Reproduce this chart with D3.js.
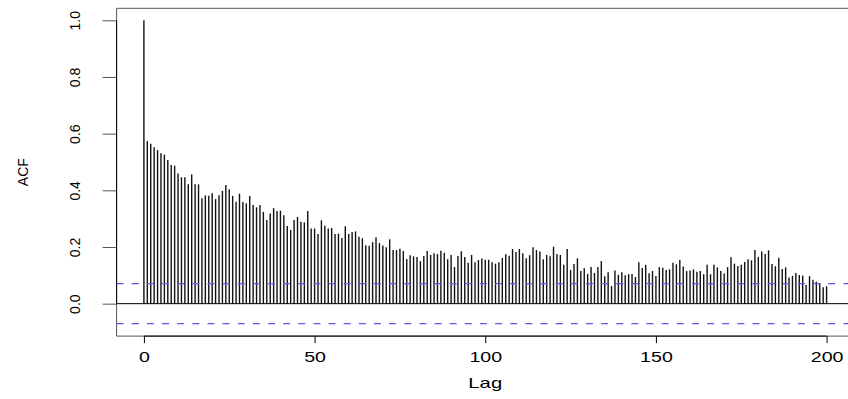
<!DOCTYPE html>
<html lang="en">
<head>
<meta charset="utf-8" />
<title>ACF</title>
<style>
  body { margin: 0; background: #fff; }
  text { font-family: "Liberation Sans", Arial, sans-serif; fill: #000; }
  .bar { stroke: #111; stroke-width: 1.4px; }
  .ci { stroke: #5a5af0; stroke-width: 1.2px; stroke-dasharray: 7, 8.14; fill: none; }
</style>
<script src="https://cdn.jsdelivr.net/npm/d3@7"></script>
</head>
<body>
<div id="acfplot"></div>
<script>
// lags and autocorrelation values
var lags = d3.range(0, 201);
var acf = [1.0,
  0.574,0.564,0.552,0.542,0.531,0.526,0.507,0.489,0.487,0.459,0.446,0.446,0.421,0.456,0.421,0.421,0.372,0.382,0.381,0.390,0.369,0.383,0.398,0.419,0.404,0.380,0.360,0.388,0.359,0.354,0.380,0.348,0.340,
  0.348,0.324,0.295,0.318,0.337,0.327,0.328,0.312,0.274,0.260,0.295,0.306,0.289,0.287,0.327,0.265,0.265,0.246,0.294,0.275,0.265,0.267,0.246,0.247,0.232,0.273,0.246,0.253,0.255,0.236,0.231,0.206,0.204,
  0.217,0.234,0.214,0.205,0.199,0.227,0.189,0.189,0.194,0.186,0.158,0.171,0.167,0.165,0.150,0.168,0.186,0.172,0.178,0.175,0.187,0.180,0.157,0.172,0.129,0.168,0.185,0.165,0.144,0.172,0.146,0.154,0.159,
  0.155,0.155,0.146,0.141,0.146,0.161,0.174,0.169,0.193,0.182,0.193,0.178,0.160,0.171,0.199,0.189,0.184,0.157,0.172,0.167,0.201,0.175,0.172,0.137,0.193,0.119,0.140,0.160,0.115,0.125,0.105,0.129,
  0.108,0.129,0.150,0.097,0.111,0.062,0.117,0.102,0.111,0.100,0.104,0.105,0.094,0.146,0.126,0.137,0.107,0.115,0.098,0.129,0.127,0.119,0.121,0.144,0.139,0.154,0.131,0.115,0.117,0.121,0.113,0.115,0.104,
  0.137,0.104,0.137,0.128,0.115,0.106,0.129,0.164,0.141,0.133,0.137,0.147,0.157,0.153,0.189,0.165,0.184,0.175,0.188,0.140,0.132,0.162,0.122,0.128,0.092,0.098,0.108,0.101,0.099,0.066,0.097,0.084,0.078,0.073,0.058,0.061];
var ciLimits = [0.0706, -0.0706];
var xTicks = [0, 50, 100, 150, 200];
var yTicks = [0.0, 0.2, 0.4, 0.6, 0.8, 1.0];

var width = 848, height = 399;

// set the ranges (R pads the data range by 4%)
var x = d3.scaleLinear().domain([-8, 208]).range([116.6, 853.9]);
var y = d3.scaleLinear().domain([-0.1145, 1.0424]).range([336.1, 8.3]);

var svg = d3.select("#acfplot").append("svg")
    .attr("width", width)
    .attr("height", height);

// plot box (right side runs off the picture)
var x0 = x.range()[0], x1 = x.range()[1], yTop = y.range()[1], yBot = y.range()[0];
svg.append("path")
    .attr("d", "M" + x1 + "," + yTop + "H" + x0 + "V" + yBot + "H" + x1)
    .attr("fill", "none").attr("stroke", "#555").attr("stroke-width", 1);

// the bars
svg.selectAll(".bar").data(lags).enter().append("line")
    .attr("class", "bar")
    .attr("x1", function(d) { return x(d); })
    .attr("x2", function(d) { return x(d); })
    .attr("y1", y(0))
    .attr("y2", function(d) { return y(acf[d]); });

// zero line
svg.append("line")
    .attr("x1", x0).attr("x2", x1).attr("y1", y(0)).attr("y2", y(0))
    .attr("stroke", "#000").attr("stroke-width", 1);

// confidence limits
svg.selectAll(".ci").data(ciLimits).enter().append("line")
    .attr("class", "ci")
    .attr("x1", x0).attr("x2", x1)
    .attr("y1", function(d) { return y(d); })
    .attr("y2", function(d) { return y(d); });

// x axis
var xAxis = svg.append("g")
    .attr("transform", "translate(0," + yBot + ")")
    .call(d3.axisBottom(x).tickValues(xTicks).tickSize(7).tickFormat(d3.format("d")));
xAxis.select(".domain").attr("d", "M" + x(0) + ",0H" + x(200)).attr("stroke", "#000");
xAxis.selectAll(".tick line").attr("stroke", "#000");
xAxis.selectAll(".tick text").attr("y", 0).attr("dy", 0)
    .attr("font-size", 14).attr("text-anchor", "middle")
    .attr("transform", "translate(0,26) scale(1.4,1)");

// y axis
var yAxis = svg.append("g")
    .attr("transform", "translate(" + x0 + ",0)")
    .call(d3.axisLeft(y).tickValues(yTicks).tickSize(14).tickFormat(d3.format(".1f")));
yAxis.select(".domain").attr("d", "M0," + y(0) + "V" + y(1)).attr("stroke", "#000");
yAxis.selectAll(".tick line").attr("stroke", "#555");
yAxis.selectAll(".tick text")
    .attr("x", 0).attr("dy", 0).attr("y", 0)
    .attr("font-size", 14).attr("text-anchor", "middle")
    .attr("transform", "translate(-42,0) rotate(-90) translate(0,5)");

// axis titles
svg.append("text")
    .attr("x", (x0 + x1) / 2).attr("y", 388)
    .attr("text-anchor", "middle").attr("font-size", 14)
    .attr("transform", "translate(" + (-(x0 + x1) / 2 * 0.45) + ",0) scale(1.45,1)")
    .text("Lag");

svg.append("text")
    .attr("transform", "translate(28," + ((yTop + yBot) / 2) + ") rotate(-90)")
    .attr("text-anchor", "middle").attr("font-size", 14)
    .text("ACF");
</script>
</body>
</html>
